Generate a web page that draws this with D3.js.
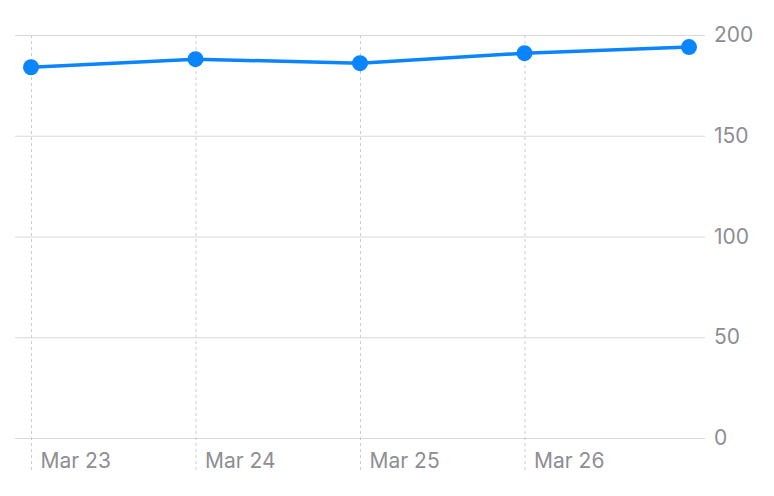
<!doctype html>
<meta charset="utf-8">

<style>
 body { margin: 0; background: #fff; }
 .grid line { stroke: #d9d9d9; stroke-width: 1px; }
 .days line { stroke: #cccccc; stroke-width: 1px; stroke-dasharray: 3,3; }
 text { font-family: Inter, "Noto Sans", sans-serif; font-size: 21px; fill: #8e8e93; }
</style>

<svg width="774" height="496"></svg>

<script src="https://d3js.org/d3.v7.min.js"></script>
<script>
 // Data
 var days = ["2024-03-23", "2024-03-24", "2024-03-25", "2024-03-26", "2024-03-27"];
 var values = [184, 188, 186, 191, 194];
 var yTicks = [0, 50, 100, 150, 200];

 var parse = d3.timeParse("%Y-%m-%d");
 var points = days.map(function(d, i) { return { date: parse(d), value: values[i] }; });

 var svg = d3.select('svg');

 var x = d3.scaleTime()
           .domain(d3.extent(points, function(d) { return d.date; }))
           .range([31, 689]);
 var y = d3.scaleLinear()
           .domain([0, 200])
           .range([438, 35]);

 // horizontal grid + value labels on the right
 svg.append('g')
    .attr('class', 'grid')
    .attr('transform', 'translate(15,0)')
    .call(d3.axisRight(y).tickValues(yTicks).tickSize(690).tickPadding(9))
    .call(function(g) { g.select('.domain').remove(); })
    .call(function(g) { g.selectAll('text').attr('fill', null).attr('font-size', null).attr('font-family', null); });

 // dashed day lines + labels
 svg.append('g')
    .attr('class', 'days')
    .attr('transform', 'translate(0,35)')
    .call(d3.axisBottom(x).tickValues(points.slice(0, 4).map(function(d) { return d.date; }))
            .tickSize(435).tickFormat(d3.timeFormat('%b %-d')))
    .call(function(g) { g.select('.domain').remove(); })
    .call(function(g) {
      g.selectAll('text')
       .attr('fill', null).attr('font-size', null).attr('font-family', null)
       .attr('text-anchor', 'start')
       .attr('x', 9)
       .attr('y', 433)
       .attr('dy', null);
    });

 var line = d3.line()
              .x(function(d) { return x(d.date); })
              .y(function(d) { return y(d.value); });

 svg.append('path')
    .datum(points)
    .attr('d', line)
    .attr('fill', 'none')
    .attr('stroke', '#0a84ff')
    .attr('stroke-width', 3.5);

 svg.selectAll('circle')
    .data(points)
    .enter().append('circle')
    .attr('cx', function(d) { return x(d.date); })
    .attr('cy', function(d) { return y(d.value); })
    .attr('r', 8)
    .attr('fill', '#0a84ff');
</script>
